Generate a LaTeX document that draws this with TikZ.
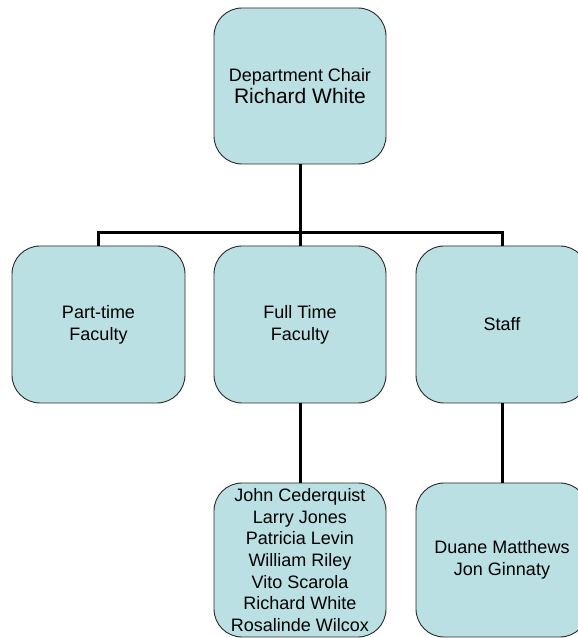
\documentclass[tikz,border=0pt]{standalone}
\usepackage{fontspec}
\setmainfont{Liberation Sans}
\definecolor{boxfill}{RGB}{187,224,227}
\definecolor{boxline}{RGB}{40,40,40}
\tikzset{
  orgbox/.style={draw=boxline, line width=0.9pt, fill=boxfill, rounded corners=28pt,
    inner sep=0pt, minimum width=172pt, minimum height=157pt, align=center,
    font=\fontsize{18}{21.7}\selectfont},
  link/.style={line width=3pt, draw=black}
}
\begin{document}
\begin{tikzpicture}[x=1pt,y=1pt]
\useasboundingbox (0,0) rectangle (578,638);
\clip (0,0) rectangle (578,638);
\node[orgbox, minimum height=156pt] (chair) at (300,552)
  {{\fontsize{18}{22}\selectfont Department Chair}\\[1pt]{\fontsize{21}{23}\selectfont Richard White}};
\node[orgbox, minimum width=173pt] (pt) at (98.5,313.5) {Part-time\\Faculty};
\node[orgbox] (ft) at (300,313.5) {Full Time\\Faculty};
\node[orgbox] (staff) at (502,313.5) {Staff};
\node[orgbox, minimum height=154pt] (names) at (300,78)
  {John Cederquist\\Larry Jones\\Patricia Levin\\William Riley\\Vito Scarola\\Richard White\\Rosalinde Wilcox};
\node[orgbox, minimum height=154pt] (sm) at (502,78) {Duane Matthews\\Jon Ginnaty};
\coordinate (bus) at (300,405);
\draw[link] (chair.south) -- (bus);
\draw[link] (pt.north) |- (bus) -| (staff.north);
\draw[link] (ft.north) -- (bus);
\draw[link] (ft.south) -- (names.north);
\draw[link] (staff.south) -- (sm.north);
\end{tikzpicture}
\end{document}
